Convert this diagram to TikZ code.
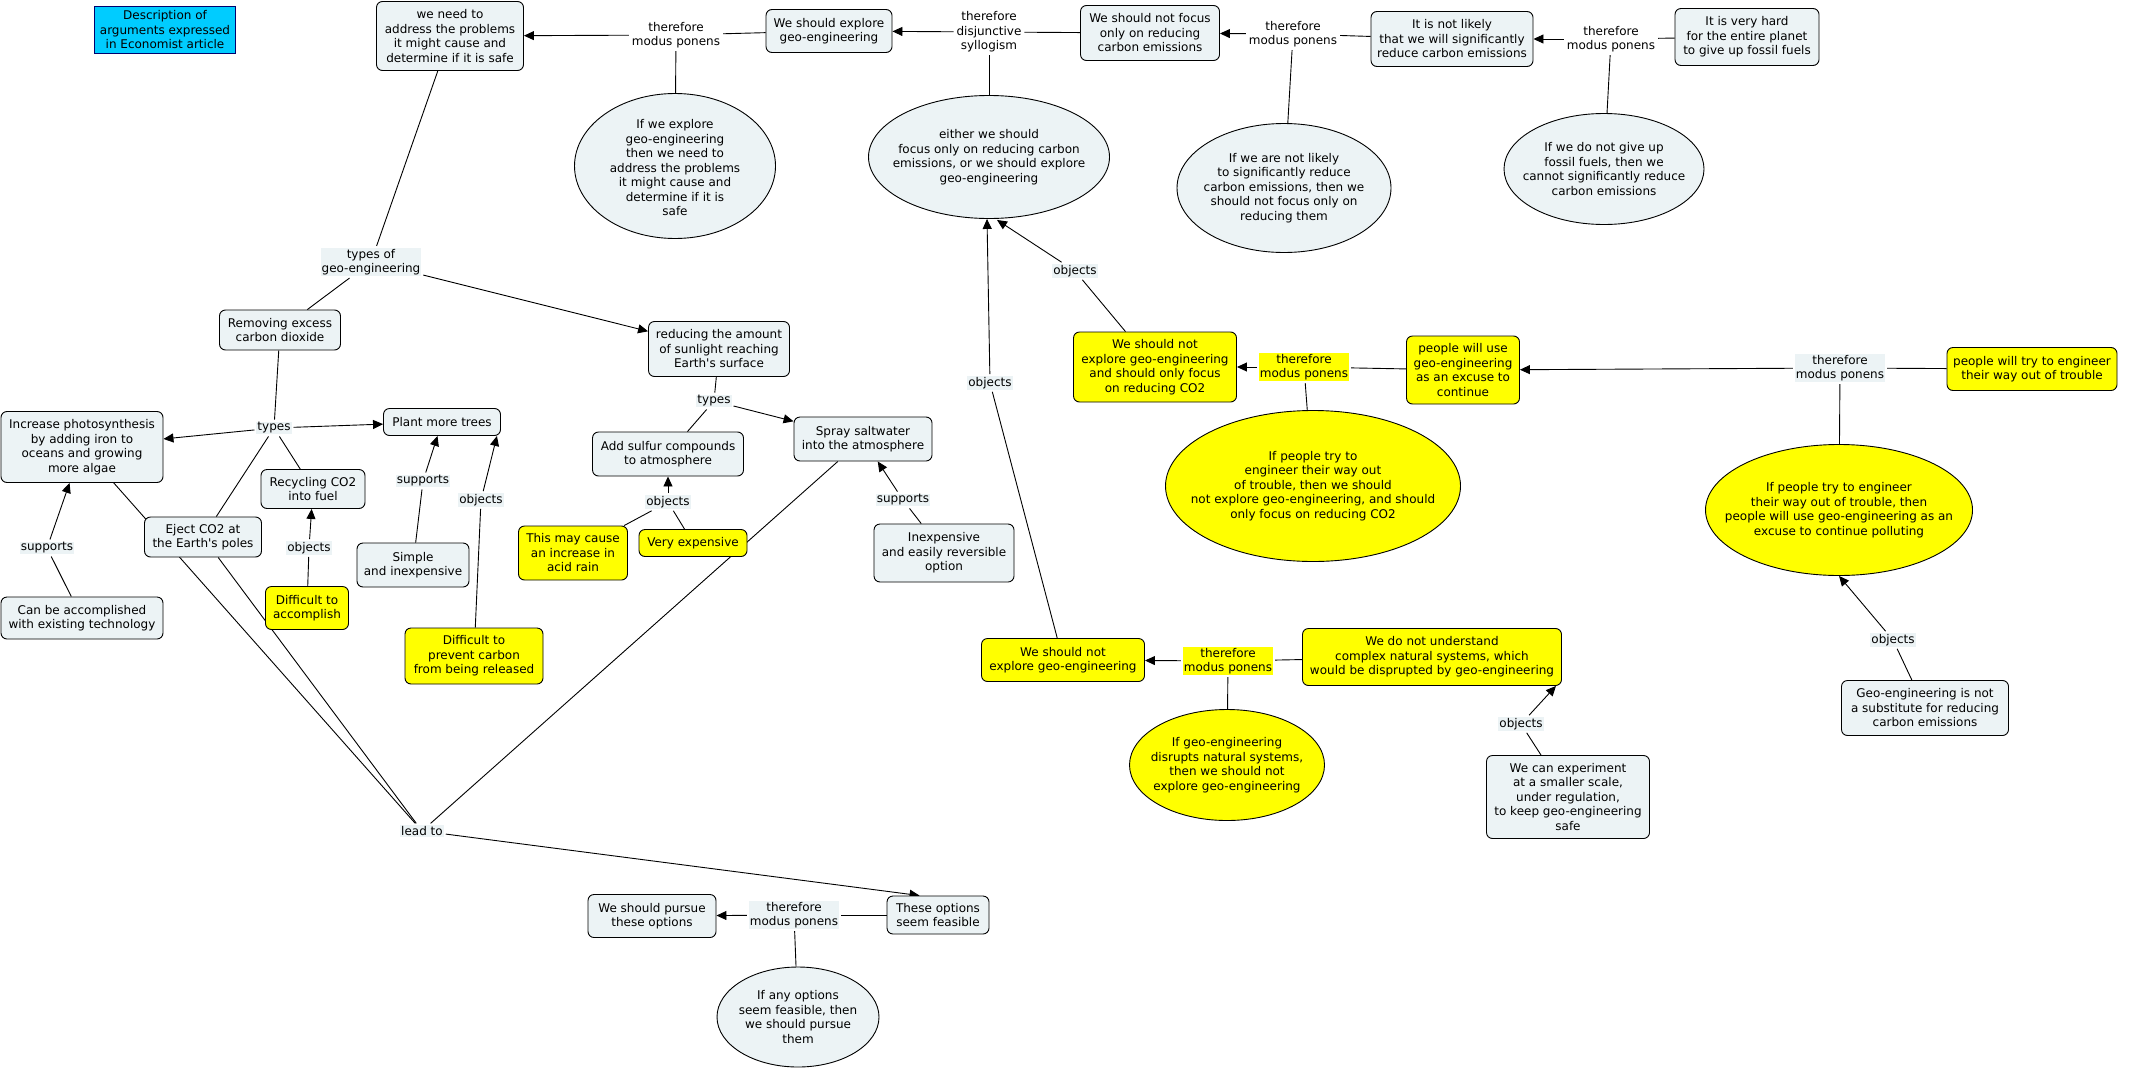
\documentclass[tikz,border=0pt]{standalone}
\usepackage{fontspec}
\setmainfont{DejaVu Sans}
\usetikzlibrary{shapes.geometric,arrows.meta,backgrounds,calc}
\definecolor{lightfill}{RGB}{236,243,245}
\definecolor{ylw}{RGB}{255,255,0}
\definecolor{cyanfill}{RGB}{0,204,255}
\definecolor{navyline}{RGB}{0,0,110}
\begin{document}
\begin{tikzpicture}[x=1pt,y=-1pt,
  every node/.style={font=\fontsize{12}{14.5}\selectfont, align=center},
  wh/.style 2 args={minimum width=#1, minimum height=#2},
  box/.style={draw=black, line width=0.9pt, rounded corners=6pt, fill=lightfill, inner sep=2pt},
  ybox/.style={box, fill=ylw},
  ell/.style={ellipse, draw=black, line width=0.9pt, fill=lightfill, inner sep=0pt},
  yell/.style={ell, fill=ylw},
  lbl/.style={inner sep=1pt, outer sep=2pt, fill=lightfill},
  ylbl/.style={lbl, fill=ylw},
  wlbl/.style={inner sep=1pt, outer sep=2pt},
  conn/.style={line width=0.9pt, draw=black},
  arr/.style={conn, -{Triangle[length=10pt,width=9pt]}},
]
\useasboundingbox (0,0) rectangle (2132,1068);

% ---------- concept boxes ----------
\node[box, fill=cyanfill, draw=navyline, rounded corners=0pt, wh={141}{47}] (desc) at (165,30) {Description of\\arguments expressed\\in Economist article};
\node[box, wh={147}{69}] (N1) at (450,36) {we need to\\address the problems\\it might cause and\\determine if it is safe};
\node[box, wh={126}{43}] (N2) at (829,31) {We should explore\\geo-engineering};
\node[box, wh={139}{55}] (N3) at (1150,33) {We should not focus\\only on reducing\\carbon emissions};
\node[box, wh={162}{55}] (N4) at (1452,39) {It is not likely\\that we will significantly\\reduce carbon emissions};
\node[box, wh={144}{57}] (N5) at (1747,37) {It is very hard\\for the entire planet\\to give up fossil fuels};
\node[box, wh={121}{40}] (R1) at (280,330) {Removing excess\\carbon dioxide};
\node[box, wh={141}{55}] (RD) at (719,349) {reducing the amount\\of sunlight reaching\\Earth\textquotesingle s surface};
\node[box, wh={162}{71}] (I1) at (82,447) {Increase photosynthesis\\by adding iron to\\oceans and growing\\more algae};
\node[box, wh={117}{27}] (P1) at (442,422) {Plant more trees};
\node[box, wh={104}{39}] (RC) at (313,489) {Recycling CO2\\into fuel};
\node[box, wh={117}{40}] (EJ) at (203,537) {Eject CO2 at\\the Earth\textquotesingle s poles};
\node[box, wh={151}{44}] (AS) at (668,454) {Add sulfur compounds\\to atmosphere};
\node[box, wh={138}{44}] (SP) at (863,439) {Spray saltwater\\into the atmosphere};
\node[box, wh={162}{42}] (CB) at (82,618) {Can be accomplished\\with existing technology};
\node[ybox, wh={83}{43}] (D1) at (307,608) {Difficult to\\accomplish};
\node[box, wh={112}{44}] (SI) at (413,565) {Simple\\and inexpensive};
\node[ybox, wh={138}{56}] (D2) at (474,656) {Difficult to\\prevent carbon\\from being released};
\node[ybox, wh={109}{54}] (TM) at (573,553) {This may cause\\an increase in\\acid rain};
\node[ybox, wh={108}{27}] (VE) at (693,543) {Very expensive};
\node[box, wh={140}{58}] (IE) at (944,553) {Inexpensive\\and easily reversible\\option};
\node[ybox, wh={163}{70}] (Y1) at (1155,367) {We should not\\explore geo-engineering\\and should only focus\\on reducing CO2};
\node[ybox, wh={113}{68}] (PU) at (1463,370) {people will use\\geo-engineering\\as an excuse to\\continue};
\node[ybox, wh={170}{43}] (PT) at (2032,369) {people will try to engineer\\their way out of trouble};
\node[ybox, wh={163}{43}] (W2) at (1063,660) {We should not\\explore geo-engineering};
\node[ybox, wh={259}{57}] (WD) at (1432,657) {We do not understand\\complex natural systems, which\\would be disprupted by geo-engineering};
\node[box, wh={167}{55}] (GN) at (1925,708) {Geo-engineering is not\\a substitute for reducing\\carbon emissions};
\node[box, wh={163}{83}] (WE) at (1568,797) {We can experiment\\at a smaller scale,\\under regulation,\\to keep geo-engineering\\safe};
\node[box, wh={102}{38}] (TO) at (938,915) {These options\\seem feasible};
\node[box, wh={128}{43}] (WP) at (652,916) {We should pursue\\these options};

% ---------- ellipses ----------
\node[ell, wh={201}{145}] (E1) at (675,166) {};
\node at (675,168) {If we explore\\geo-engineering\\then we need to\\address the problems\\it might cause and\\determine if it is\\safe};
\node[ell, wh={241}{123}] (E2) at (989,157) {};
\node at (E2) {either we should\\focus only on reducing carbon\\emissions, or we should explore\\geo-engineering};
\node[ell, wh={214}{129}] (E3) at (1284,188) {};
\node at (E3) {If we are not likely\\to significantly reduce\\carbon emissions, then we\\should not focus only on\\reducing them};
\node[ell, wh={200}{111}] (E4) at (1604,169) {};
\node at (E4) {If we do not give up\\fossil fuels, then we\\cannot significantly reduce\\carbon emissions};
\node[yell, wh={295}{151}] (Ey1) at (1313,486) {};
\node at (Ey1) {If people try to\\engineer their way out\\of trouble, then we should\\not explore geo-engineering, and should\\only focus on reducing CO2};
\node[yell, wh={267}{131}] (Ey2) at (1839,510) {};
\node at (Ey2) {If people try to engineer\\their way out of trouble, then\\people will use geo-engineering as an\\excuse to continue polluting};
\node[yell, wh={195}{111}] (Ey3) at (1227,765) {};
\node at (Ey3) {If geo-engineering\\disrupts natural systems,\\then we should not\\explore geo-engineering};
\node[ell, wh={162}{100}] (Ey4) at (798,1017) {};
\node at (Ey4) {If any options\\seem feasible, then\\we should pursue\\them};

% ---------- linking phrases ----------
\node[wlbl] (MP1) at (676,35) {therefore\\modus ponens};
\node[wlbl] (DS) at (989,32) {therefore\\disjunctive\\syllogism};
\node[wlbl] (MP2) at (1293,34) {therefore\\modus ponens};
\node[wlbl] (MP3) at (1611,39) {therefore\\modus ponens};
\node[lbl] (TOF) at (371,262) {types of\\geo-engineering};
\node[lbl] (T1) at (274,428) {types};
\node[lbl] (S1) at (47,548) {supports};
\node[lbl] (O1) at (309,548) {objects};
\node[lbl] (S2) at (423,481) {supports};
\node[lbl] (O2) at (481,500) {objects};
\node[lbl] (T2) at (714,401) {types};
\node[lbl] (O3) at (668,502) {objects};
\node[lbl] (S3) at (903,500) {supports};
\node[lbl] (OE) at (1075,271) {objects};
\node[lbl] (OB) at (990,383) {objects};
\node[ylbl] (MP4) at (1304,367) {therefore\\modus ponens};
\node[ylbl] (MP5) at (1228,661) {therefore\\modus ponens};
\node[lbl] (MP6) at (1840,368) {therefore\\modus ponens};
\node[lbl] (OG) at (1893,640) {objects};
\node[lbl] (OW) at (1521,724) {objects};
\node[lbl] (LT) at (422,831) {lead to};
\node[lbl] (MP7) at (794,915) {therefore\\modus ponens};

% ---------- connectors ----------
\begin{pgfonlayer}{background}
\fill[white] (0,0) rectangle (2132,1068);
\draw[arr] (MP1) -- (N1);
\draw[conn] (N2) -- (MP1);
\draw[conn] (MP1) -- (E1);
\draw[arr] (DS) -- (N2);
\draw[conn] (N3) -- (DS);
\draw[conn] (DS) -- (E2);
\draw[arr] (MP2) -- (N3);
\draw[conn] (N4) -- (MP2);
\draw[conn] (MP2) -- (E3);
\draw[arr] (MP3) -- (N4);
\draw[conn] (N5) -- (MP3);
\draw[conn] (MP3) -- (E4);
\draw[conn] (N1) -- (TOF);
\draw[conn] (TOF) -- (R1);
\draw[arr] (TOF) -- (RD);
\draw[conn] (R1) -- (T1);
\draw[arr] (T1) -- (I1);
\draw[arr] (T1) -- (P1);
\draw[conn] (T1) -- (EJ);
\draw[conn] (T1) -- (RC);
\draw[arr] (S1) -- (I1);
\draw[conn] (CB) -- (S1);
\draw[arr] (O1) -- (RC);
\draw[conn] (D1) -- (O1);
\draw[arr] (S2) -- (P1);
\draw[conn] (SI) -- (S2);
\draw[arr] (O2) -- ([xshift=-4pt]P1.south east);
\draw[conn] (D2) -- (O2);
\draw[conn] (RD) -- (T2);
\draw[arr] (T2) -- (SP);
\draw[conn] (T2) -- (AS);
\draw[arr] (O3) -- (AS);
\draw[conn] (TM) -- (O3);
\draw[conn] (VE) -- (O3);
\draw[arr] (S3) -- (SP);
\draw[conn] (IE) -- (S3);
\draw[conn] (I1) -- (LT);
\draw[conn] (EJ) -- (LT);
\draw[conn] (SP) -- (LT);
\draw[arr] (LT) -- ([xshift=33pt]TO.north west);
\draw[conn] (TO) -- (MP7);
\draw[arr] (MP7) -- (WP);
\draw[conn] (MP7) -- (Ey4);
\draw[arr] (OE) -- ([xshift=8pt,yshift=-1pt]E2.south);
\draw[conn] (Y1) -- (OE);
\draw[arr] (OB) -- ([xshift=-2pt]E2.south);
\draw[conn] (W2) -- (OB);
\draw[arr] (MP4) -- (Y1);
\draw[conn] (PU) -- (MP4);
\draw[conn] (MP4) -- (Ey1);
\draw[arr] (MP6) -- (PU);
\draw[conn] (PT) -- (MP6);
\draw[conn] (MP6) -- (Ey2);
\draw[arr] (OG) -- (Ey2.south);
\draw[conn] (GN) -- (OG);
\draw[arr] (MP5) -- (W2);
\draw[conn] (WD) -- (MP5);
\draw[conn] (MP5) -- (Ey3);
\draw[arr] (OW) -- ([xshift=-6pt]WD.south east);
\draw[conn] (WE) -- (OW);
\end{pgfonlayer}
\end{tikzpicture}
\end{document}
